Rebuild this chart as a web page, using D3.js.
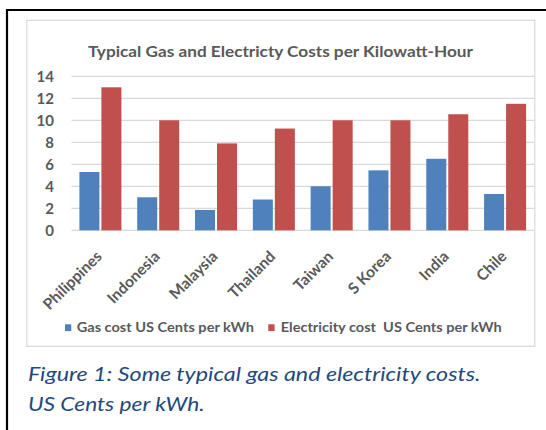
<!DOCTYPE html>
<html>
<head>
<meta charset="utf-8">
<script src="https://cdn.jsdelivr.net/npm/d3@7"></script>
<style>
  html, body { margin: 0; padding: 0; background: #fff; }
  svg { display: block; }
  text { font-family: Lato, "Open Sans", sans-serif; }
</style>
</head>
<body>
<svg id="chart" width="546" height="430"></svg>
<script>
const categories = ["Philippines", "Indonesia", "Malaysia", "Thailand", "Taiwan", "S Korea", "India", "Chile"];
const gasCost = [5.3, 3.0, 1.85, 2.8, 4.0, 5.45, 6.5, 3.3];
const elecCost = [13.0, 10.0, 7.9, 9.25, 10.0, 10.0, 10.55, 11.5];
const seriesNames = ["Gas cost US Cents per kWh", "Electricity cost  US Cents per kWh"];
const seriesKeys = ["gas", "elec"];
const seriesColors = ["#4F81BD", "#C0504D"];
const yTicks = [0, 2, 4, 6, 8, 10, 12, 14];
const titleText = "Typical Gas and Electricty Costs per Kilowatt-Hour";
const captionLines = ["Figure 1: Some typical gas and electricity costs.", "US Cents per kWh."];

const svg = d3.select("#chart");
const textGray = "#595959";

// outer page border (black)
svg.append("path")
  .attr("d", "M7,432 L7,10 L548,10")
  .attr("fill", "none").attr("stroke", "#000").attr("stroke-width", 2.2);

// chart area box
svg.append("rect")
  .attr("x", 26.8).attr("y", 20.3).attr("width", 508).attr("height", 326)
  .attr("fill", "#fff").attr("stroke", "#d9d9d9").attr("stroke-width", 1.2);

const plotL = 71.5, plotR = 534, y0 = 230.3, y14 = 76.3;

const x = d3.scaleBand().domain(categories).range([plotL, plotR]).paddingInner(0).paddingOuter(0);
const xs = d3.scaleBand().domain(seriesKeys).range([0, x.step()]).paddingInner(2 / 22).paddingOuter(0.359);
const y = d3.scaleLinear().domain([0, 14]).range([y0, y14]);

// gridlines
svg.append("g").selectAll("line").data(yTicks).join("line")
  .attr("x1", plotL).attr("x2", plotR)
  .attr("y1", d => y(d)).attr("y2", d => y(d))
  .attr("stroke", "#d9d9d9").attr("stroke-width", 1.3);

// y axis labels
const yAxis = d3.axisLeft(y).tickValues(yTicks).tickSize(0).tickPadding(0);
const yg = svg.append("g").attr("transform", `translate(54,0)`).call(yAxis);
yg.select(".domain").remove();
yg.selectAll("text")
  .attr("fill", textGray).attr("font-size", "15px").attr("font-weight", "bold")
  .attr("font-family", "Lato, 'Open Sans', sans-serif")
  .attr("dy", "0.36em");

// bars
const data = categories.map((c, i) => ({ cat: c, gas: gasCost[i], elec: elecCost[i] }));
const groups = svg.append("g").selectAll("g").data(data).join("g")
  .attr("transform", d => `translate(${x(d.cat)},0)`);
groups.selectAll("rect").data(d => seriesKeys.map((k, j) => ({ key: k, value: d[k], color: seriesColors[j] })))
  .join("rect")
  .attr("x", d => xs(d.key))
  .attr("width", xs.bandwidth())
  .attr("y", d => y(d.value))
  .attr("height", d => y(0) - y(d.value))
  .attr("fill", d => d.color);

// x labels (rotated)
svg.append("g").selectAll("text").data(categories).join("text")
  .attr("transform", d => `translate(${x(d) + x.bandwidth() / 2 + 2.5},257.5) rotate(-45)`)
  .attr("text-anchor", "end")
  .attr("fill", textGray).attr("font-size", "15.5px").attr("font-weight", "bold")
  .text(d => d);

// title
svg.append("text")
  .attr("x", 88).attr("y", 57.3)
  .attr("fill", textGray).attr("font-size", "15px").attr("font-weight", "bold")
  .attr("textLength", 385).attr("lengthAdjust", "spacingAndGlyphs")
  .text(titleText);

// legend
const legendItems = [
  { sx: 65, tx: 76.7, tw: 177.3 },
  { sx: 268.3, tx: 280.7, tw: 221 }
];
const lg = svg.append("g");
legendItems.forEach((it, i) => {
  lg.append("rect").attr("x", it.sx).attr("y", 324.3).attr("width", 6.3).attr("height", 6.8)
    .attr("fill", seriesColors[i]);
  lg.append("text").attr("x", it.tx).attr("y", 331.7)
    .attr("fill", textGray).attr("font-size", "12.5px").attr("font-weight", "bold")
    .style("white-space", "pre")
    .attr("textLength", it.tw).attr("lengthAdjust", "spacingAndGlyphs")
    .text(seriesNames[i]);
});

// caption
const capW = [452.6, 176.8];
const capY = [381.3, 410.5];
captionLines.forEach((t, i) => {
  svg.append("text").attr("x", 27.9).attr("y", capY[i])
    .attr("fill", "#1F497D").attr("font-size", "20px").attr("font-style", "italic")
    .attr("textLength", capW[i]).attr("lengthAdjust", "spacingAndGlyphs")
    .text(t);
});
</script>
</body>
</html>
